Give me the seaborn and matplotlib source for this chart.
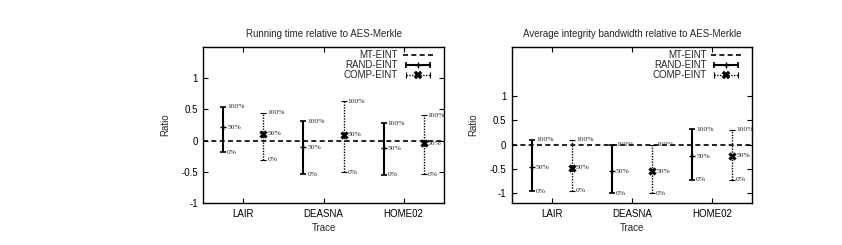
import numpy as np
import pandas as pd
import matplotlib
matplotlib.use("Agg")
import matplotlib.pyplot as plt
import seaborn as sns
from matplotlib.lines import Line2D
from matplotlib.legend_handler import HandlerLine2D, HandlerTuple

# ---------------- data ----------------
traces = ["LAIR", "DEASNA", "HOME02"]
schemes = ["RAND-EINT", "COMP-EINT"]
mt_ratio = 0.0  # MT-EINT baseline

# Running time relative to AES-Merkle  (min / median / max)
time_rand_min = [-0.19, -0.54, -0.55]
time_rand_med = [0.21, -0.11, -0.12]
time_rand_max = [0.54, 0.31, 0.28]
time_comp_min = [-0.31, -0.51, -0.54]
time_comp_med = [0.11, 0.09, -0.04]
time_comp_max = [0.45, 0.63, 0.41]

# Average integrity bandwidth relative to AES-Merkle
bw_rand_min = [-0.96, -1.00, -0.72]
bw_rand_med = [-0.47, -0.55, -0.24]
bw_rand_max = [0.10, 0.00, 0.31]
bw_comp_min = [-0.95, -1.00, -0.72]
bw_comp_med = [-0.48, -0.55, -0.23]
bw_comp_max = [0.10, 0.00, 0.30]

titles = ["Running time relative to AES-Merkle",
          "Average integrity bandwidth relative to AES-Merkle"]
ylims = [(-1.0, 1.5), (-1.2, 2.0)]
yticks = [-1, -0.5, 0, 0.5, 1]


def build_frame(rmin, rmed, rmax, cmin, cmed, cmax):
    rows = []
    for i, t in enumerate(traces):
        rows.append(dict(trace=t, idx=i + 1, scheme="RAND-EINT", off=-0.25,
                         lo=rmin[i], med=rmed[i], hi=rmax[i]))
        rows.append(dict(trace=t, idx=i + 1, scheme="COMP-EINT", off=0.25,
                         lo=cmin[i], med=cmed[i], hi=cmax[i]))
    df = pd.DataFrame(rows)
    df["x"] = df["idx"] + df["off"]
    return df


frames = [
    build_frame(time_rand_min, time_rand_med, time_rand_max,
                time_comp_min, time_comp_med, time_comp_max),
    build_frame(bw_rand_min, bw_rand_med, bw_rand_max,
                bw_comp_min, bw_comp_med, bw_comp_max),
]

# ---------------- style ----------------
sns.set_theme(style="ticks")
plt.rcParams["font.family"] = ["Liberation Sans", "DejaVu Sans"]
plt.rcParams.update({
    "axes.edgecolor": "black",
    "axes.linewidth": 1.0,
    "xtick.direction": "in",
    "ytick.direction": "in",
    "xtick.major.size": 3.5,
    "ytick.major.size": 3.5,
    "xtick.major.width": 0.8,
    "ytick.major.width": 0.8,
    "xtick.top": True,
    "ytick.right": True,
    "font.size": 7,
})

W, H = 842, 245
fig = plt.figure(figsize=(W / 100, H / 100), dpi=100)
ax_boxes = [
    [203.3 / W, (H - 203) / H, 240.4 / W, 156 / H],
    [512.0 / W, (H - 203) / H, 240.3 / W, 156 / H],
]

styles = {
    "RAND-EINT": dict(ls="-", lw=1.5, marker="+", ms=4.5, mew=1.0),
    "COMP-EINT": dict(ls=(0, (1, 1)), lw=1.0, marker="X", ms=5.5, mew=0.3),
}

for k, (box, df) in enumerate(zip(ax_boxes, frames)):
    ax = fig.add_axes(box)
    ax.axhline(mt_ratio, color="black", ls=(0, (3, 2)), lw=1.2, zorder=1)
    for s in schemes:
        d = df[df.scheme == s]
        st = styles[s]
        eb = ax.errorbar(d["x"], d["med"],
                         yerr=[d["med"] - d["lo"], d["hi"] - d["med"]],
                         fmt="none", ecolor="black", elinewidth=st["lw"],
                         capsize=2.2, capthick=1.2 if s == "RAND-EINT" else 0.8,
                         zorder=2)
        for lc in eb[2]:
            lc.set_linestyle(st["ls"])
        sns.scatterplot(data=d, x="x", y="med", ax=ax, marker=st["marker"],
                        s=st["ms"] ** 2, color="black", edgecolor="black",
                        linewidth=st["mew"], zorder=3, legend=False)
        for _, r in d.iterrows():
            for val, lab in [(r.hi, "100%"), (r.med, "50%"), (r.lo, "0%")]:
                ax.annotate(lab, (r.x, val), xytext=(2.8, 0),
                            textcoords="offset points", ha="left", va="center",
                            fontsize=5.4, family=["Liberation Serif", "DejaVu Serif"])
    ax.set_xlim(0.5, 3.5)
    ax.set_ylim(*ylims[k])
    ax.set_xticks([1, 2, 3])
    ax.set_xticklabels(traces)
    ax.set_yticks(yticks)
    ax.set_yticklabels(["-1", "-0.5", "0", "0.5", "1"])
    ax.tick_params(labelsize=7, pad=4, colors="black")
    ax.set_xlabel("Trace", fontsize=7, labelpad=3)
    ax.set_ylabel("Ratio", fontsize=7, labelpad=8)
    ax.set_title(titles[k], fontsize=7, pad=7)

    # legend (gnuplot-like)
    h_mt = Line2D([], [], color="black", ls=(0, (3, 2)), lw=1.2)
    r_caps = Line2D([], [], color="black", ls="-", lw=1.5, marker="|", ms=5, mew=1.2)
    r_mid = Line2D([], [], color="black", ls="none", marker="+", ms=4.5, mew=1.0)
    c_caps = Line2D([], [], color="black", ls=(0, (1, 1)), lw=1.0, marker="|", ms=5, mew=0.8)
    c_mid = Line2D([], [], color="black", ls="none", marker="X", ms=5.5, mew=0.3)
    hm = {r_caps: HandlerLine2D(numpoints=2), c_caps: HandlerLine2D(numpoints=2),
          r_mid: HandlerLine2D(numpoints=1), c_mid: HandlerLine2D(numpoints=1),
          tuple: HandlerTuple(ndivide=1)}
    ax.legend([h_mt, (r_caps, r_mid), (c_caps, c_mid)],
              ["MT-EINT", "RAND-EINT", "COMP-EINT"],
              handler_map=hm, loc="upper right", frameon=False, fontsize=7,
              markerfirst=False, handlelength=3.1, handletextpad=0.5,
              labelspacing=0.0, borderaxespad=0.0, borderpad=0.2,
              bbox_to_anchor=(1 - 9 / 240.4, 1 - 1 / 156))

fig.savefig("out.png", dpi=100)
